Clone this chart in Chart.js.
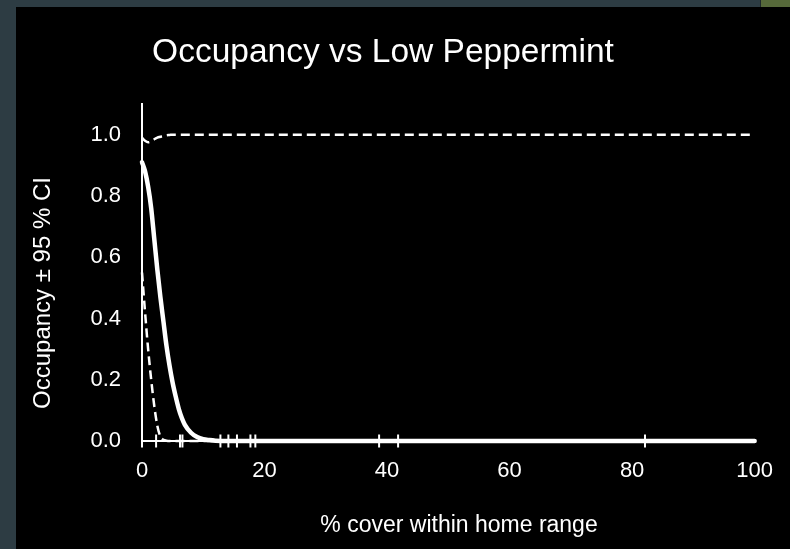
<!DOCTYPE html>
<html>
<head>
<meta charset="utf-8">
<title>Occupancy vs Low Peppermint</title>
<script src="https://cdn.jsdelivr.net/npm/chart.js@4/dist/chart.umd.min.js"></script>
<style>
  html, body { margin: 0; padding: 0; }
  body { width: 790px; height: 549px; overflow: hidden; background: #2d3c43; position: relative; }
  #corner { position: absolute; left: 760px; top: 0; width: 30px; height: 7px; background: #56693a; border-left: 1px solid #1e282c; }
  #wrap { position: absolute; left: 16px; top: 7px; width: 774px; height: 542px; background: #000; }
  canvas { display: block; }
</style>
</head>
<body>
<div id="corner"></div>
<div id="wrap"><canvas id="chart" width="774" height="542"></canvas></div>
<script>
// % cover of low peppermint within the home range
const coverPct = [0, 0.5, 1, 1.5, 2, 2.5, 3, 3.5, 4, 4.5, 5, 5.5, 6, 6.5, 7, 8, 9, 10, 11, 12, 14, 20, 40, 60, 80, 100];
// predicted occupancy
const occupancy = [0.91, 0.88, 0.83, 0.76, 0.66, 0.56, 0.47, 0.39, 0.31, 0.245, 0.19, 0.145, 0.105, 0.075, 0.053, 0.027, 0.013, 0.006, 0.003, 0.001, 0, 0, 0, 0, 0, 0];
// lower 95 % confidence limit
const lowerCI = [0.55, 0.42, 0.30, 0.20, 0.115, 0.05, 0.015, 0.004, 0.001, 0, 0, 0, 0, 0, 0, 0, 0, 0, 0, 0, 0, 0, 0, 0, 0, 0];
// upper 95 % confidence limit
const upperCI = [0.99, 0.98, 0.975, 0.978, 0.985, 0.99, 0.993, 0.996, 0.998, 0.999, 1, 1, 1, 1, 1, 1, 1, 1, 1, 1, 1, 1, 1, 1, 1, 1];
// observed cover values at surveyed sites (rug along the x axis)
const siteCover = [0, 2.3, 6.2, 6.6, 12.8, 14.1, 15.5, 17.7, 18.5, 38.7, 41.8, 82.1];
// axis tick values
const yTicks = [0, 0.2, 0.4, 0.6, 0.8, 1.0];
const xTicks = [0, 20, 40, 60, 80, 100];

const chartTitle = 'Occupancy vs Low Peppermint';
const xTitle = '% cover within home range';
const yTitle = 'Occupancy \u00b1 95 % CI';

const FONT = '"Liberation Sans", Arial, sans-serif';

const pairs = ys => coverPct.map((x, i) => ({ x: x, y: ys[i] }));

// Titles drawn at fixed spots on the canvas
const chartTexts = {
  id: 'chartTexts',
  afterDraw(chart) {
    const ctx = chart.ctx;
    ctx.save();
    ctx.fillStyle = '#ffffff';
    ctx.textAlign = 'center';
    ctx.textBaseline = 'alphabetic';
    ctx.font = '33.5px ' + FONT;
    ctx.fillText(chartTitle, 367, 55);
    ctx.font = '23px ' + FONT;
    ctx.fillText(xTitle, 443, 525);
    ctx.font = '24px ' + FONT;
    ctx.translate(34, 286);
    ctx.rotate(-Math.PI / 2);
    ctx.fillText(yTitle, 0, 0);
    ctx.restore();
  }
};

new Chart(document.getElementById('chart'), {
  type: 'line',
  data: {
    datasets: [
      {
        label: 'Sites',
        data: siteCover.map(x => ({ x: x, y: 0 })),
        showLine: false,
        pointStyle: 'line',
        rotation: 90,
        pointRadius: 6.5,
        pointBorderWidth: 2,
        pointBorderColor: '#ffffff',
        pointBackgroundColor: '#ffffff',
        clip: false,
        order: 4
      },
      {
        label: 'Upper 95 % CI',
        data: pairs(upperCI),
        borderColor: '#ffffff',
        borderWidth: 2.5,
        borderDash: [9, 5],
        pointRadius: 0,
        cubicInterpolationMode: 'monotone',
        clip: false,
        order: 3
      },
      {
        label: 'Lower 95 % CI',
        data: pairs(lowerCI),
        borderColor: '#ffffff',
        borderWidth: 2.5,
        borderDash: [9, 5],
        pointRadius: 0,
        cubicInterpolationMode: 'monotone',
        clip: false,
        order: 2
      },
      {
        label: 'Occupancy',
        data: pairs(occupancy),
        borderColor: '#ffffff',
        borderWidth: 4.5,
        borderCapStyle: 'round',
        borderJoinStyle: 'round',
        pointRadius: 0,
        cubicInterpolationMode: 'monotone',
        clip: false,
        order: 1
      }
    ]
  },
  options: {
    responsive: false,
    animation: false,
    layout: { padding: { top: 97, left: 0, right: 0, bottom: 0 } },
    plugins: {
      legend: { display: false },
      title: { display: false },
      tooltip: { enabled: false }
    },
    scales: {
      x: {
        type: 'linear',
        min: 0,
        max: 100,
        afterFit: s => { s.height = 108; },
        afterBuildTicks: s => { s.ticks = xTicks.map(v => ({ value: v })); },
        grid: { display: false, drawTicks: false },
        border: { display: true, color: '#ffffff', width: 2 },
        ticks: {
          color: '#ffffff',
          padding: 17,
          maxRotation: 0,
          font: { family: FONT, size: 22 },
          callback: v => String(v)
        }
      },
      y: {
        type: 'linear',
        min: 0,
        max: 1.1,
        afterFit: s => { s.width = 126; },
        afterBuildTicks: s => { s.ticks = yTicks.map(v => ({ value: v })); },
        grid: { display: false, drawTicks: false },
        border: { display: true, color: '#ffffff', width: 2 },
        ticks: {
          color: '#ffffff',
          padding: 21,
          font: { family: FONT, size: 22 },
          callback: v => Number(v).toFixed(1)
        }
      }
    }
  },
  plugins: [chartTexts]
});
</script>
</body>
</html>
